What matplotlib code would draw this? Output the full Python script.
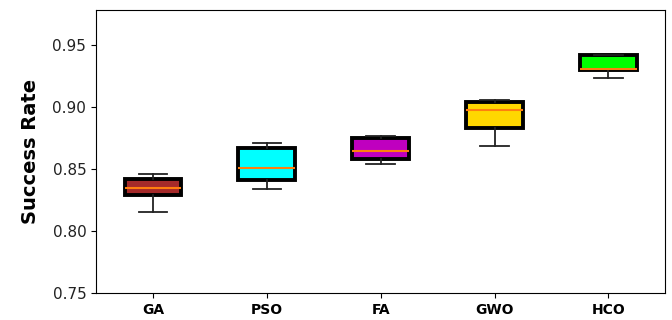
import matplotlib
matplotlib.use("Agg")
import matplotlib.pyplot as plt

algorithms = ["GA", "PSO", "FA", "GWO", "HCO"]
whisker_low = [0.815, 0.834, 0.8545, 0.869, 0.924]
box_low = [0.829, 0.841, 0.8585, 0.883, 0.930]
medians = [0.835, 0.851, 0.865, 0.898, 0.931]
box_high = [0.842, 0.867, 0.8755, 0.904, 0.942]
whisker_high = [0.846, 0.871, 0.877, 0.906, 0.9425]
colors = ["brown", "cyan", "m", "gold", "lime"]

stats = []
for name, wl, q1, med, q3, wh in zip(algorithms, whisker_low, box_low, medians, box_high, whisker_high):
    stats.append({"label": name, "whislo": wl, "q1": q1, "med": med, "q3": q3, "whishi": wh, "fliers": []})

fig, ax = plt.subplots(figsize=(6.72, 3.2), dpi=100)
bp = ax.bxp(stats, patch_artist=True, widths=0.5,
            boxprops=dict(linewidth=2.8, edgecolor="black"),
            medianprops=dict(color="tab:orange", linewidth=1.5),
            whiskerprops=dict(linewidth=1.3, color="#222222"),
            capprops=dict(linewidth=1.3, color="#222222"))
for patch, c in zip(bp["boxes"], colors):
    patch.set_facecolor(c)

ax.set_ylim(0.75, 0.979)
ax.set_yticks([0.75, 0.80, 0.85, 0.90, 0.95])
ax.set_ylabel("Success Rate", fontsize=14, fontweight="bold", labelpad=9)
for lbl in ax.get_xticklabels():
    lbl.set_fontweight("bold")
ax.tick_params(axis="y", labelsize=11, labelcolor="#222222")
ax.tick_params(axis="x", labelsize=10)

fig.subplots_adjust(left=0.143, right=0.99, top=0.97, bottom=0.085)
fig.savefig("out.png", dpi=100)
